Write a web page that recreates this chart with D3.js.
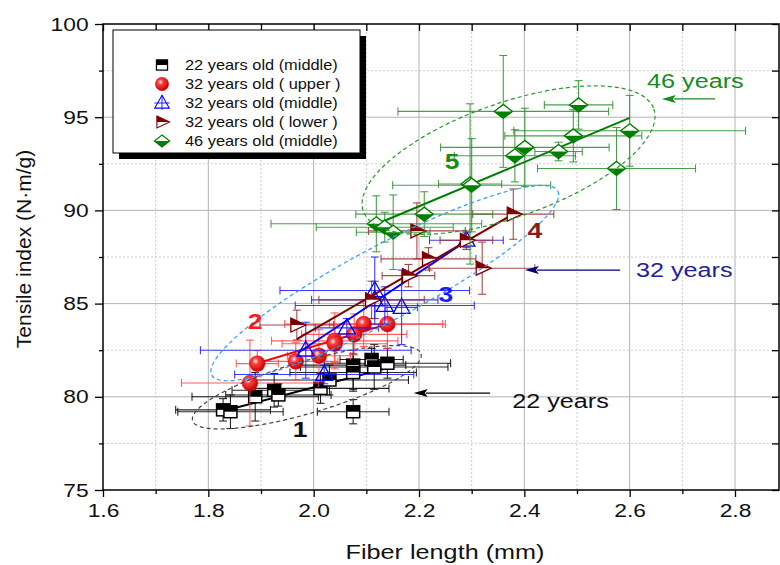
<!DOCTYPE html>
<html>
<head>
<meta charset="utf-8">
<title>Tensile index vs fiber length</title>
<script src="https://d3js.org/d3.v7.min.js"></script>
<style>
  body { margin: 0; background: #fff; }
  text { font-family: Arial, "Liberation Sans", sans-serif; }
</style>
</head>
<body>
<svg width="780" height="565"></svg>
<script>
// ---- data: [fiber length, tensile index, x error, y error] ----
var age22Middle = [
  [1.828, 79.3, 0.09, 0.6], [1.842, 79.2, 0.10, 0.9], [1.889, 80.0, 0.12, 1.3],
  [1.925, 80.35, 0.08, 0.9], [1.933, 80.1, 0.10, 0.6], [2.013, 80.45, 0.13, 0.8],
  [2.03, 80.9, 0.15, 0.8], [2.075, 81.7, 0.10, 1.3], [2.075, 81.3, 0.12, 1.0],
  [2.11, 82.0, 0.06, 0.6], [2.115, 81.6, 0.14, 1.2], [2.14, 81.8, 0.12, 0.8],
  [2.075, 79.2, 0.068, 0.65]
];
var age32Upper = [
  [1.879, 80.74, 0.13, 2.3], [1.893, 81.78, 0.04, 0.7], [1.966, 81.9, 0.08, 1.0],
  [2.01, 82.2, 0.06, 1.4], [2.04, 83.0, 0.12, 1.5], [2.04, 82.85, 0.10, 1.0],
  [2.077, 83.35, 0.10, 1.1], [2.095, 83.9, 0.15, 1.2], [2.14, 83.9, 0.11, 1.3]
];
var age32Middle = [
  [1.985, 82.5, 0.20, 1.5], [2.02, 81.2, 0.17, 0.5], [2.063, 83.7, 0.06, 0.5],
  [2.116, 85.7, 0.18, 1.8], [2.116, 85.2, 0.12, 1.0], [2.135, 84.9, 0.17, 1.0],
  [2.167, 84.8, 0.03, 2.0], [2.29, 88.4, 0.07, 0.4]
];
var age32Lower = [
  [1.968, 83.85, 0.07, 0.8], [2.11, 85.2, 0.10, 1.0], [2.18, 86.5, 0.05, 0.6],
  [2.218, 87.4, 0.09, 0.6], [2.196, 88.9, 0.092, 1.5], [2.29, 88.4, 0.05, 0.5],
  [2.32, 86.9, 0.10, 1.4], [2.379, 89.8, 0.077, 1.35]
];
var age46Middle = [
  [2.119, 89.28, 0.20, 1.5], [2.135, 89.1, 0.13, 0.8], [2.151, 88.83, 0.07, 2.0],
  [2.21, 89.8, 0.13, 1.2], [2.297, 91.42, 0.06, 4.3], [2.30, 91.35, 0.15, 2.5],
  [2.36, 95.31, 0.20, 3.0], [2.382, 92.93, 0.115, 1.4], [2.401, 93.38, 0.16, 2.1],
  [2.465, 93.16, 0.045, 0.5], [2.493, 94.0, 0.13, 1.4], [2.503, 95.66, 0.065, 1.3],
  [2.575, 92.25, 0.15, 2.2], [2.60, 94.27, 0.22, 1.9]
];
var seriesData = [age22Middle, age32Upper, age32Middle, age32Lower, age46Middle];
var seriesNames = ["22 years old (middle)", "32 years old ( upper )", "32 years old (middle)",
                   "32 years old ( lower )", "46 years old (middle)"];
var seriesShapes = ["square", "circle", "triangle", "flag", "diamond"];
var seriesColors = ["#000000", "#ff0000", "#0000ff", "#800000", "#008000"];
var barColors = ["#000000", "#ff4545", "#1a1aff", "#9a2c2c", "#2a8f2a"];

// linear fits, endpoints
var fitLines = [
  [[1.83, 79.25], [2.14, 81.55]],
  [[1.893, 81.8], [2.14, 83.9]],
  [[1.97, 82.35], [2.29, 88.36]],
  [[1.968, 83.1], [2.379, 89.8]],
  [[2.12, 89.27], [2.60, 94.96]]
];

var xTicks = [1.6, 1.8, 2.0, 2.2, 2.4, 2.6, 2.8];
var xMinor = [1.7, 1.9, 2.1, 2.3, 2.5, 2.7];
var yTicks = [75, 80, 85, 90, 95, 100];
var yMinor = [77.5, 82.5, 87.5, 92.5, 97.5];

// group numbers and age annotations
var groupLabels = ["1", "2", "3", "4", "5"];
var groupLabelAt = [[1.974, 77.84], [1.889, 83.64], [2.251, 85.09], [2.42, 88.52], [2.263, 92.22]];
var groupLabelColors = ["#111111", "#ff1a1a", "#1a1aff", "#8b1a1a", "#1a8a1a"];
var ageNotes = ["22 years", "32 years", "46 years"];
var ageNoteAt = [[2.377, 79.4], [2.612, 86.43], [2.633, 96.57]];
var ageArrows = [[[2.335, 80.2], [2.19, 80.2]], [[2.582, 86.8], [2.401, 86.8]], [[2.762, 95.98], [2.661, 95.98]]];
var ageColors = ["#111111", "#22229a", "#1a8a1a"];
var arrowColors = ["#000000", "#000080", "#1a8a1a"];
var ellipses = [
  {c: [1.987, 80.51], rx: 119, ry: 26, rot: -16.3, color: "#444444"},
  {c: [2.135, 86.1], rx: 196, ry: 37, rot: -28, color: "#3399ff"},
  {c: [2.37, 92.7], rx: 154, ry: 57, rot: -19.4, color: "#2a9a2a"}
];

// ---- chart ----
var svg = d3.select("svg");
var pL = 103, pT = 24, pR = 779, pB = 490;
var SX = 1.2; // horizontal stretch of the text in the original

var x = d3.scaleLinear().domain([1.6, 2.8]).range([pL, 735]);
var y = d3.scaleLinear().domain([75, 100]).range([pB, pT]);

var defs = svg.append("defs");
var grad = defs.append("radialGradient").attr("id", "ball")
    .attr("cx", "38%").attr("cy", "35%").attr("r", "65%");
grad.append("stop").attr("offset", "0%").attr("stop-color", "#ffffff");
grad.append("stop").attr("offset", "30%").attr("stop-color", "#ff4040");
grad.append("stop").attr("offset", "100%").attr("stop-color", "#c80000");
defs.append("clipPath").attr("id", "plot").append("rect")
    .attr("x", pL).attr("y", pT).attr("width", pR - pL).attr("height", pB - pT);

// grid
var grid = svg.append("g");
xTicks.slice(1).forEach(function(v) {
  grid.append("line").attr("x1", x(v)).attr("x2", x(v)).attr("y1", pT).attr("y2", pB)
      .attr("stroke", "#b4b4b4").attr("stroke-width", 1);
});
yTicks.slice(1, -1).forEach(function(v) {
  grid.append("line").attr("x1", pL).attr("x2", pR).attr("y1", y(v)).attr("y2", y(v))
      .attr("stroke", "#b4b4b4").attr("stroke-width", 1);
});
xMinor.forEach(function(v) {
  grid.append("line").attr("x1", x(v)).attr("x2", x(v)).attr("y1", pT).attr("y2", pB)
      .attr("stroke", "#cccccc").attr("stroke-dasharray", "2,2");
});
yMinor.forEach(function(v) {
  grid.append("line").attr("x1", pL).attr("x2", pR).attr("y1", y(v)).attr("y2", y(v))
      .attr("stroke", "#cccccc").attr("stroke-dasharray", "2,2");
});

// axes
function styleAxis(g) {
  g.select(".domain").remove();
  g.selectAll("line").attr("stroke", "#000").attr("stroke-width", 1.3);
}
svg.append("g").attr("transform", "translate(0," + pB + ")")
   .call(d3.axisBottom(x).tickValues(xTicks).tickSize(7).tickPadding(7).tickFormat(d3.format(".1f")))
   .call(styleAxis)
   .selectAll("text").attr("font-size", 19).attr("fill", "#111")
   .attr("transform", "scale(" + SX + ",1)");
svg.append("g").attr("transform", "translate(0," + pB + ")")
   .call(d3.axisBottom(x).tickValues(xMinor).tickSize(4).tickFormat(""))
   .call(styleAxis);
svg.append("g").attr("transform", "translate(0," + pT + ")")
   .call(d3.axisTop(x).tickValues(xTicks.concat(xMinor)).tickSize(-7).tickFormat(""))
   .call(styleAxis);
svg.append("g").attr("transform", "translate(" + pL + ",0)")
   .call(d3.axisLeft(y).tickValues(yTicks).tickSize(8).tickPadding(4))
   .call(styleAxis)
   .selectAll("text").attr("font-size", 19).attr("fill", "#111")
   .attr("transform", "scale(" + SX + ",1)");
svg.append("g").attr("transform", "translate(" + pL + ",0)")
   .call(d3.axisLeft(y).tickValues(yMinor).tickSize(4).tickFormat(""))
   .call(styleAxis);
svg.append("g").attr("transform", "translate(" + pR + ",0)")
   .call(d3.axisRight(y).tickValues(yTicks.concat(yMinor)).tickSize(-7).tickFormat(""))
   .call(styleAxis);
svg.append("rect").attr("x", pL).attr("y", pT).attr("width", pR - pL).attr("height", pB - pT)
   .attr("fill", "none").attr("stroke", "#000").attr("stroke-width", 1.5);

// axis titles
svg.append("text").attr("transform", "translate(445,559) scale(" + SX + ",1)")
   .attr("text-anchor", "middle").attr("font-size", 21).attr("fill", "#111").text("Fiber length (mm)");
svg.append("text").attr("transform", "translate(31,249) rotate(-90)")
   .attr("text-anchor", "middle").attr("font-size", 21).attr("fill", "#111").text("Tensile index (N\u00b7m/g)");

// markers
function marker(g, shape, c) {
  if (shape === "square") {
    g.append("rect").attr("x", -6.5).attr("y", -6).attr("width", 13).attr("height", 12).attr("fill", "#fff");
    g.append("rect").attr("x", -6.5).attr("y", -6).attr("width", 13).attr("height", 6).attr("fill", c);
    g.append("rect").attr("x", -6.5).attr("y", -6).attr("width", 13).attr("height", 12)
     .attr("fill", "none").attr("stroke", c).attr("stroke-width", 1.5);
  } else if (shape === "circle") {
    g.append("circle").attr("r", 7.8).attr("fill", "url(#ball)").attr("stroke", "#e00000").attr("stroke-width", 0.6);
  } else if (shape === "triangle") {
    g.append("path").attr("d", "M0,-9L8.5,6L-8.5,6Z").attr("fill", "none")
     .attr("stroke", c).attr("stroke-width", 1.3);
  } else if (shape === "flag") {
    g.append("path").attr("d", "M-6,-7L9,0L-6,7Z").attr("fill", "#fff");
    g.append("path").attr("d", "M-6,-7L9,0L-6,0Z").attr("fill", c);
    g.append("path").attr("d", "M-6,-7L9,0L-6,7Z").attr("fill", "none")
     .attr("stroke", c).attr("stroke-width", 1.3);
  } else if (shape === "diamond") {
    g.append("path").attr("d", "M0,-7L9,0L0,7L-9,0Z").attr("fill", "#fff");
    g.append("path").attr("d", "M-9,0L9,0L0,7Z").attr("fill", c);
    g.append("path").attr("d", "M0,-7L9,0L0,7L-9,0Z").attr("fill", "none")
     .attr("stroke", c).attr("stroke-width", 1.4);
  }
}

var plot = svg.append("g").attr("clip-path", "url(#plot)");
var line = d3.line().x(function(d) { return x(d[0]); }).y(function(d) { return y(d[1]); });

seriesData.forEach(function(data, i) {
  var g = plot.append("g");
  var bars = g.append("g").attr("stroke", barColors[i]).attr("stroke-width", 1.1).attr("stroke-opacity", 0.85);
  data.forEach(function(d) {
    var cx = x(d[0]), cy = y(d[1]);
    var x0 = x(d[0] - d[2]), x1 = x(d[0] + d[2]);
    var y0 = y(d[1] - d[3]), y1 = y(d[1] + d[3]);
    bars.append("line").attr("x1", x0).attr("x2", x1).attr("y1", cy).attr("y2", cy);
    bars.append("line").attr("x1", x0).attr("x2", x0).attr("y1", cy - 4).attr("y2", cy + 4);
    bars.append("line").attr("x1", x1).attr("x2", x1).attr("y1", cy - 4).attr("y2", cy + 4);
    bars.append("line").attr("x1", cx).attr("x2", cx).attr("y1", y0).attr("y2", y1);
    bars.append("line").attr("x1", cx - 4).attr("x2", cx + 4).attr("y1", y0).attr("y2", y0);
    bars.append("line").attr("x1", cx - 4).attr("x2", cx + 4).attr("y1", y1).attr("y2", y1);
  });
  g.append("path").datum(fitLines[i]).attr("d", line)
   .attr("fill", "none").attr("stroke", seriesColors[i]).attr("stroke-width", 2);
  data.forEach(function(d) {
    marker(g.append("g").attr("transform", "translate(" + x(d[0]) + "," + y(d[1]) + ")"),
           seriesShapes[i], seriesColors[i]);
  });
});

// dashed ellipses
ellipses.forEach(function(e) {
  plot.append("ellipse")
      .attr("transform", "translate(" + x(e.c[0]) + "," + y(e.c[1]) + ") rotate(" + e.rot + ")")
      .attr("rx", e.rx).attr("ry", e.ry).attr("fill", "none")
      .attr("stroke", e.color).attr("stroke-width", 1.2).attr("stroke-dasharray", "4,3");
});

// group numbers
groupLabels.forEach(function(t, i) {
  svg.append("text")
     .attr("transform", "translate(" + x(groupLabelAt[i][0]) + "," + y(groupLabelAt[i][1]) + ") scale(" + SX + ",1)")
     .attr("text-anchor", "middle").attr("font-size", 22).attr("font-weight", "bold")
     .attr("fill", groupLabelColors[i]).text(t);
});

// age notes with arrows
ageNotes.forEach(function(t, i) {
  svg.append("text")
     .attr("transform", "translate(" + x(ageNoteAt[i][0]) + "," + y(ageNoteAt[i][1]) + ") scale(" + SX + ",1)")
     .attr("font-size", 21).attr("fill", ageColors[i]).text(t);
  var a = ageArrows[i];
  svg.append("line").attr("x1", x(a[0][0])).attr("y1", y(a[0][1]))
     .attr("x2", x(a[1][0]) + 12).attr("y2", y(a[1][1]))
     .attr("stroke", arrowColors[i]).attr("stroke-width", 1.3);
  svg.append("path")
     .attr("d", "M" + x(a[1][0]) + "," + y(a[1][1]) + "l14,-4l-3,4l3,4z")
     .attr("fill", arrowColors[i]);
});

// legend
var lg = svg.append("g").attr("transform", "translate(113,30)");
lg.append("rect").attr("x", 6).attr("y", 6).attr("width", 247).attr("height", 123).attr("fill", "#000");
lg.append("rect").attr("width", 247).attr("height", 123).attr("fill", "#fff")
  .attr("stroke", "#000").attr("stroke-width", 1);
seriesNames.forEach(function(n, i) {
  var ry = 35 + i * 19;
  var mg = lg.append("g").attr("transform", "translate(49," + ry + ") scale(0.85)");
  if (seriesShapes[i] === "triangle") {
    mg.append("line").attr("x1", 0).attr("x2", 0).attr("y1", -9).attr("y2", 8).attr("stroke", seriesColors[i]);
    mg.append("line").attr("x1", -9).attr("x2", 9).attr("y1", 0).attr("y2", 0).attr("stroke", seriesColors[i]);
  }
  marker(mg, seriesShapes[i], seriesColors[i]);
  lg.append("text").attr("transform", "translate(72," + (ry + 5) + ") scale(1.17,1)")
    .attr("font-size", 14).attr("fill", "#111").text(n);
});
</script>
</body>
</html>
